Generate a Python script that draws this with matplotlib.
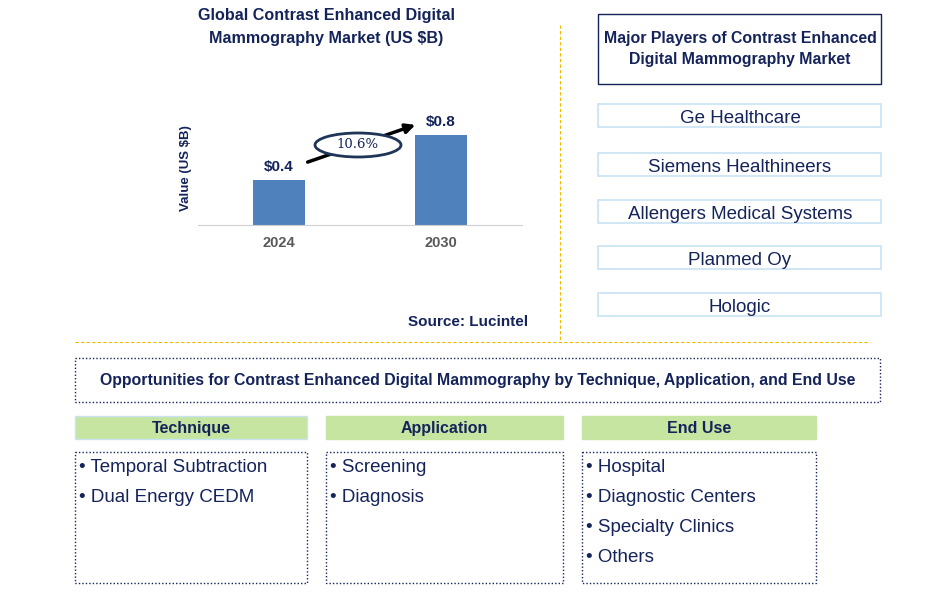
import matplotlib
matplotlib.use("Agg")
import matplotlib.pyplot as plt
from matplotlib.patches import Rectangle, Ellipse

# data
years = ["2024", "2030"]
values = [0.4, 0.8]
cagr = "10.6%"
players = ["Ge Healthcare", "Siemens Healthineers", "Allengers Medical Systems",
           "Planmed Oy", "Hologic"]
segments = ["Technique", "Application", "End Use"]
segment_items = [["Temporal Subtraction", "Dual Energy CEDM"],
                 ["Screening", "Diagnosis"],
                 ["Hospital", "Diagnostic Centers", "Specialty Clinics", "Others"]]

navy = "#14235a"
blue = "#4f81bd"
gold = "#f2b800"

plt.rcParams['font.family'] = ['Liberation Sans', 'DejaVu Sans']

W, H = 945, 605
fig = plt.figure(figsize=(9.45, 6.05), dpi=100)

# overlay in pixel coords
ov = fig.add_axes([0, 0, 1, 1])
ov.set_xlim(0, W)
ov.set_ylim(H, 0)
ov.axis("off")

# bar chart
ax = fig.add_axes([198 / W, (H - 225) / H, 324 / W, 113 / H])
x = range(len(years))
ax.bar(x, values, width=0.315, color=blue, zorder=2)
ax.set_xlim(-0.5, 1.5)
ax.set_ylim(0, 1.0)
ax.set_xticks(list(x))
ax.set_xticklabels(years, fontsize=10.5, fontweight="bold", color="#595959")
ax.tick_params(axis="x", length=0, pad=8)
ax.set_yticks([])
for s in ["top", "right", "left"]:
    ax.spines[s].set_visible(False)
ax.spines["bottom"].set_color("#d0d0d0")
ax.patch.set_alpha(0)
for i, v in enumerate(values):
    ax.text(i, v + 0.05, "$%.1f" % v, ha="center", va="bottom", fontsize=11,
            fontweight="bold", color=navy)
ax.set_ylabel("Value (US $B)", fontsize=9.5, fontweight="bold", color=navy, labelpad=4)

ov.annotate("", xy=(418, 124), xytext=(305, 163),
            arrowprops=dict(arrowstyle="-|>", color="black", lw=2.5, mutation_scale=14))
ov.add_patch(Ellipse((358, 145), 86, 24, facecolor="white", edgecolor="#1f3557", lw=2, zorder=3))
ov.text(358, 145, cagr, ha="center", va="center", fontsize=9.5, color=navy,
        family="DejaVu Serif", zorder=4)

ov.text(326, 27, "Global Contrast Enhanced Digital\nMammography Market (US $B)",
        ha="center", va="center", fontsize=11.6, fontweight="bold", color=navy, linespacing=1.6)
ov.text(468, 322, "Source: Lucintel", ha="center", va="center", fontsize=11,
        fontweight="bold", color=navy)

# separators
ov.plot([560, 560], [25, 342], color=gold, lw=0.8, ls=(0, (3, 2)))
ov.plot([75, 870], [342, 342], color=gold, lw=0.8, ls=(0, (3, 2)))

# major players
ov.add_patch(Rectangle((598, 14), 283, 70, fill=False, edgecolor=navy, lw=1))
ov.text(740, 49, "Major Players of Contrast Enhanced\nDigital Mammography Market",
        ha="center", va="center", fontsize=11.4, fontweight="bold", color=navy, linespacing=1.45)
box_tops = [104, 153, 200, 246, 293]
for top, name in zip(box_tops, players):
    ov.add_patch(Rectangle((598, top), 283, 23, fill=False, edgecolor="#c9e3f3", lw=1.2))
    ov.text(740, top + 14.5, name, ha="center", va="center", fontsize=13.5, color=navy)

# opportunities
ov.add_patch(Rectangle((75, 358), 805, 44, fill=False, edgecolor=navy, lw=1, ls=(0, (1, 1.5))))
ov.text(478, 381, "Opportunities for Contrast Enhanced Digital Mammography by Technique, Application, and End Use",
        ha="center", va="center", fontsize=11.4, fontweight="bold", color=navy)

col_x = [75, 326, 582]
col_w = [232, 237, 234]
for cx, cw, seg, items in zip(col_x, col_w, segments, segment_items):
    ov.add_patch(Rectangle((cx, 416), cw, 23, facecolor="#c6e5a0",
                           edgecolor="#c9e3f3" if cx == 75 else "#c6e5a0", lw=1))
    ov.text(cx + cw / 2, 428.5, seg, ha="center", va="center", fontsize=11.5,
            fontweight="bold", color=navy)
    ov.add_patch(Rectangle((cx, 452), cw, 131, fill=False, edgecolor=navy, lw=1, ls=(0, (1, 1.5))))
    for k, it in enumerate(items):
        ov.text(cx + 4, 467 + 30 * k, "\u2022 " + it, ha="left", va="center",
                fontsize=13.5, color=navy)

fig.savefig("out.png", dpi=100)
